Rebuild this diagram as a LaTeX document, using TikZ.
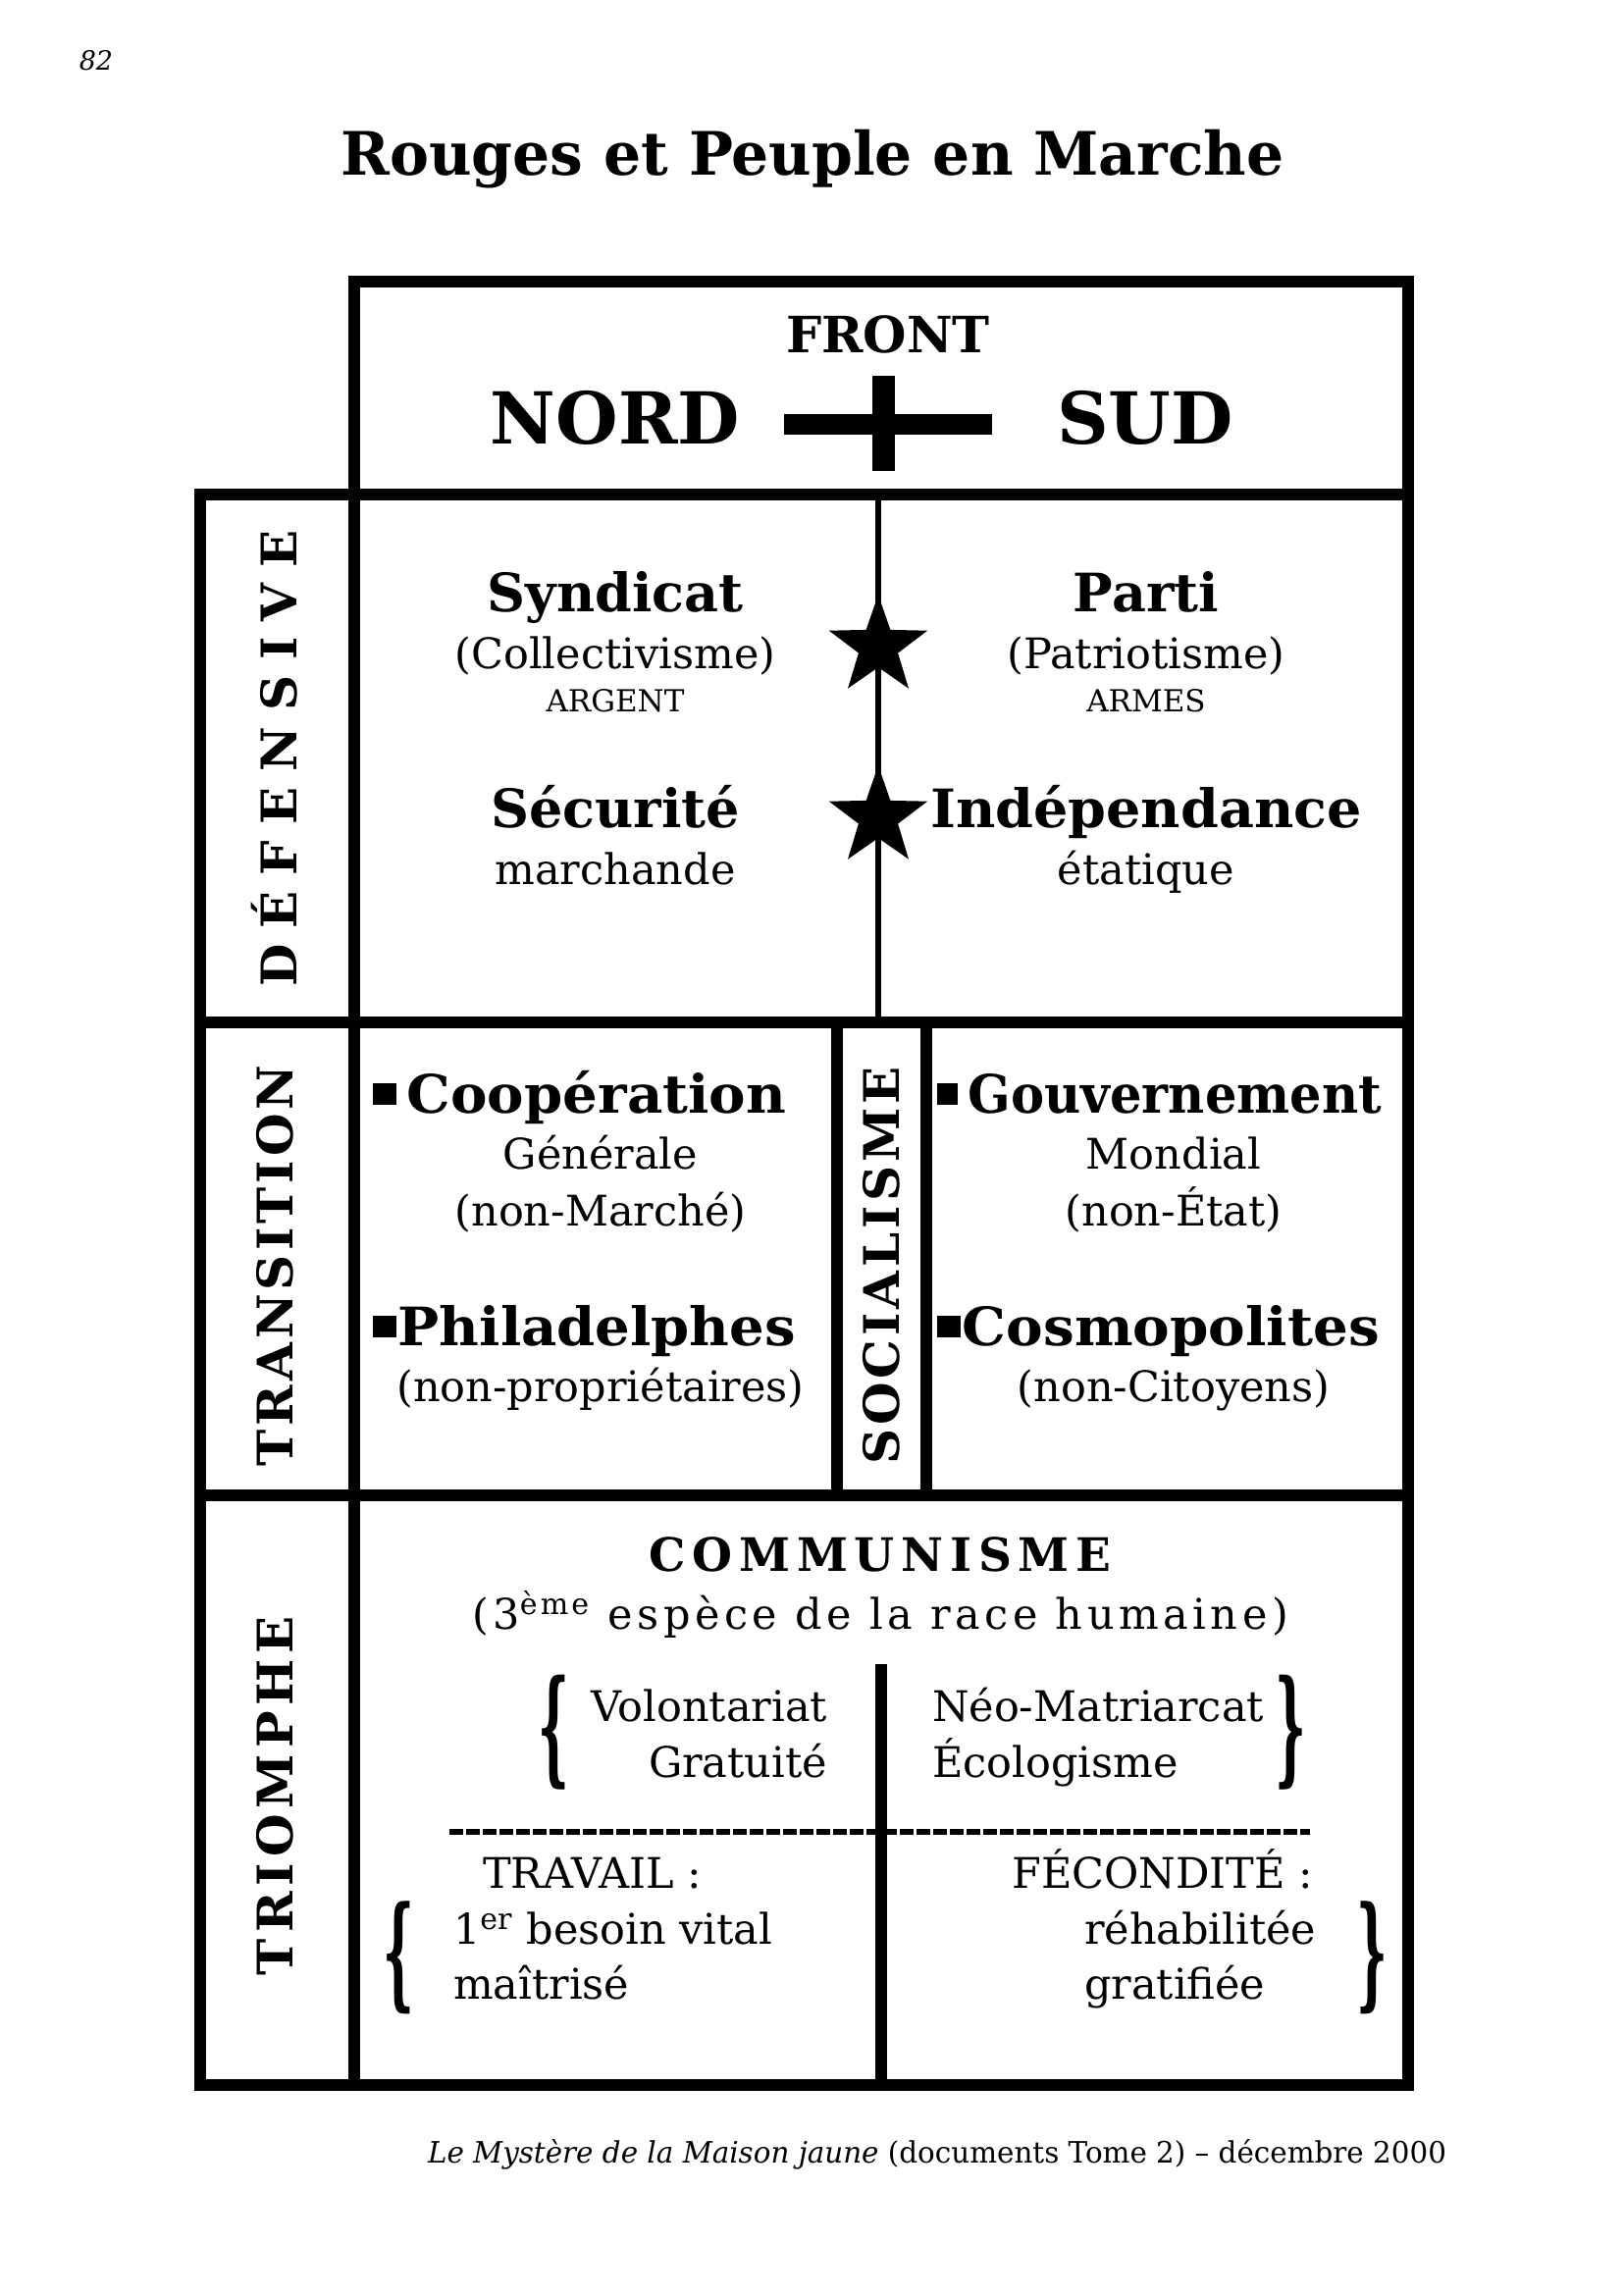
\documentclass[tikz,border=0pt]{standalone}
\usepackage{fontspec}
\usepackage{graphicx}
\setmainfont{DejaVu Serif}
\usetikzlibrary{shapes.geometric}
\newdimen\pxu \pxu=0.127mm
\newcommand\fs[1]{\fontsize{\dimexpr #1\pxu\relax}{\dimexpr #1\pxu*6/5\relax}\selectfont}
\makeatletter
\newcommand\spreadword[2]{\def\sp@k{\kern#1\pxu}\sp@loop#2\relax\unkern}
\def\sp@loop#1{\ifx#1\relax\else#1\sp@k\expandafter\sp@loop\fi}
\makeatother
\newsavebox\fitbox
\newdimen\fitdim
\newcommand\fitw[2]{\sbox\fitbox{#2}\fitdim=\wd\fitbox\pgfmathsetmacro\fitfac{#1*0.361346/\fitdim}\scalebox{\fitfac}[1]{\usebox\fitbox}}
\newcommand\sqb[1]{\raisebox{0.14em}{\rule{0.42em}{0.42em}}\kern#1em}
\begin{document}
\begin{tikzpicture}[x=0.127mm,y=-0.127mm,
  txt/.style={inner sep=0pt,outer sep=0pt},
  frame/.style={line width=1.5mm},
  hair/.style={line width=0.76mm},
  bigword/.style={txt,anchor=base,font=\fs{54}\bfseries},
  subword/.style={txt,anchor=base,font=\fs{43}},
  smallcap/.style={txt,anchor=base,font=\fs{31}},
  sidelab/.style={txt,font=\fs{50}\bfseries,rotate=90},
  brace/.style={txt,font=\fs{43}\bfseries},
  starmark/.style={star,star points=5,star point ratio=2.5,fill=black,inner sep=0pt,minimum size=13.4mm}]
\useasboundingbox (0,0) rectangle (1654,2339);
% grid coordinates
\coordinate (tl) at (361,287);
\coordinate (tr) at (1435,504);
\coordinate (ml) at (204,504);
\coordinate (mr) at (1435,2125);
\coordinate (cA) at (361,504);
\coordinate (cB) at (361,2125);
\coordinate (r1l) at (204,1042);
\coordinate (r1r) at (1435,1042);
\coordinate (r2l) at (204,1524);
\coordinate (r2r) at (1435,1524);
\coordinate (s1t) at (853,1042);
\coordinate (s1b) at (853,1524);
\coordinate (s2t) at (944,1042);
\coordinate (s2b) at (944,1524);
\coordinate (ft) at (895,504);
\coordinate (fb) at (895,1042);
\coordinate (tt) at (898,1696);
\coordinate (tb) at (898,2125);
\coordinate (dl) at (458,1867);
\coordinate (dr) at (1335,1867);
% frames
\draw[frame] (tl) rectangle (tr);
\draw[frame] (ml) rectangle (mr);
\draw[frame] (cA) -- (cB);
\draw[frame] (r1l) -- (r1r);
\draw[frame] (r2l) -- (r2r);
\draw[frame] (s1t) -- (s1b);
\draw[frame] (s2t) -- (s2b);
\draw[hair] (ft) -- (fb);
\draw[frame] (tt) -- (tb);
\draw[hair,dash pattern=on 1.78mm off 0.38mm] (dl) -- (dr);
% cross
\fill (799,422) rectangle (1011,443);
\fill (889,383) rectangle (912,480);
% page number, title
\node[txt,anchor=base,font=\fs{27}\itshape] (pg) at (98,72) {82};
\node[txt,anchor=base,font=\fs{61}\bfseries] (title) at (828,179) {\fitw{961}{Rouges et Peuple en Marche}};
% header
\node[txt,anchor=base,font=\fs{51}\bfseries] (front) at (905,360) {FRONT};
\node[txt,anchor=base,font=\fs{73}\bfseries] (nord) at (627,453) {NORD};
\node[txt,anchor=base,font=\fs{73}\bfseries] (sud) at (1167,453) {SUD};
% side labels
\node[sidelab] (def) at (280,773) {\spreadword{16}{DÉFENSIVE}};
\node[sidelab] (tra) at (280,1290) {\spreadword{4}{TRANSITION}};
\node[sidelab] (soc) at (898,1290) {\spreadword{4}{SOCIALISME}};
\node[sidelab] (tri) at (280,1830) {\spreadword{6}{TRIOMPHE}};
% defensive
\node[bigword] (syn) at (627,624) {Syndicat};
\node[subword] (col) at (627,682) {(Collectivisme)};
\node[smallcap] (arg) at (627,725) {ARGENT};
\node[bigword] (par) at (1168,624) {Parti};
\node[subword] (pat) at (1168,682) {(Patriotisme)};
\node[smallcap] (arm) at (1168,725) {ARMES};
\node[bigword] (sec) at (627,843) {Sécurité};
\node[subword] (mar) at (627,901) {marchande};
\node[bigword] (ind) at (1168,843) {\fitw{440}{Indépendance}};
\node[subword] (eta) at (1168,901) {étatique};
\node[starmark] (st1) at (895,659) {};
\node[starmark] (st2) at (895,833) {};
% transition
\node[bigword,anchor=base west] (coo) at (380,1134) {\fitw{421}{\sqb{0.2}Coopération}};
\node[subword] (gen) at (612,1191) {Générale};
\node[subword] (nma) at (612,1249) {(non-Marché)};
\node[bigword,anchor=base west] (phi) at (380,1371) {\fitw{431}{\sqb{0.04}Philadelphes}};
\node[subword] (npr) at (612,1428) {(non-propriétaires)};
\node[bigword,anchor=base west] (gou) at (955,1134) {\fitw{453}{\sqb{0.2}Gouvernement}};
\node[subword] (mon) at (1196,1191) {Mondial};
\node[subword] (net) at (1196,1249) {(non-État)};
\node[bigword,anchor=base west] (cos) at (955,1371) {\fitw{451}{\sqb{0.04}Cosmopolites}};
\node[subword] (nci) at (1196,1428) {(non-Citoyens)};
% triomphe
\node[txt,anchor=base,font=\fs{47}\bfseries] (com) at (897,1601) {\spreadword{6.7}{COMMUNISME}};
\node[txt,anchor=base,font=\fs{43}\addfontfeature{LetterSpace=10.5}] (esp) at (897,1660) {(3\textsuperscript{ème} espèce de la race humaine)};
\node[brace] (b1) at (564,1766) {\scalebox{1.15}[2.95]{\{}};
\node[subword,anchor=base east] (vol) at (843,1754) {Volontariat};
\node[subword,anchor=base east] (gra) at (843,1811) {Gratuité};
\node[subword,anchor=base west] (neo) at (950,1754) {Néo-Matriarcat};
\node[subword,anchor=base west] (eco) at (950,1811) {Écologisme};
\node[brace] (b2) at (1315,1766) {\scalebox{1.15}[2.95]{\}}};
\node[subword,anchor=base west] (trv) at (492,1924) {TRAVAIL :};
\node[subword,anchor=base west] (bes) at (462,1981) {1\textsuperscript{er} besoin vital};
\node[subword,anchor=base west] (mai) at (462,2037) {maîtrisé};
\node[brace] (b3) at (406,1995) {\scalebox{1.15}[2.9]{\{}};
\node[subword,anchor=base east] (fec) at (1338,1924) {FÉCONDITÉ :};
\node[subword,anchor=base west] (reh) at (1105,1981) {réhabilitée};
\node[subword,anchor=base west] (grf) at (1105,2037) {gratifiée};
\node[brace] (b4) at (1398,1995) {\scalebox{1.15}[2.9]{\}}};
% footer
\node[txt,anchor=base east,font=\fs{30}] (foot) at (1474,2204) {\fitw{1038}{\textit{Le Mystère de la Maison jaune} (documents Tome 2) – décembre 2000}};
\end{tikzpicture}
\end{document}
